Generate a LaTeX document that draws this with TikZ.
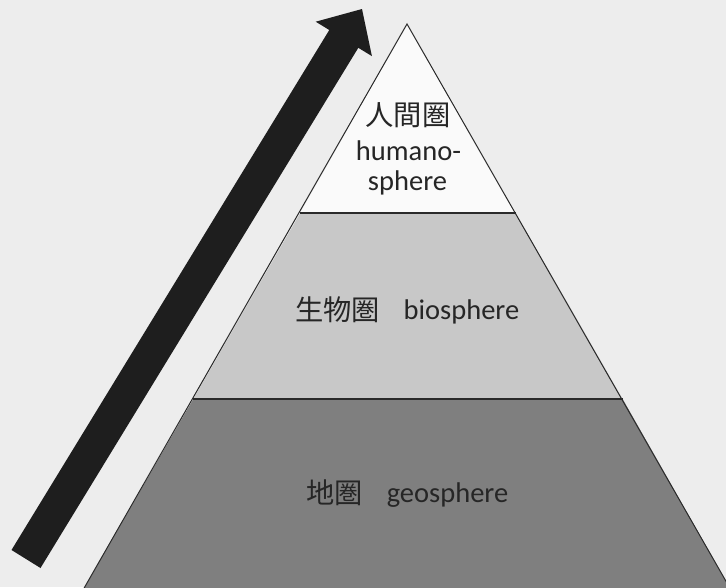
\documentclass[tikz,border=0pt]{standalone}
\usepackage{fontspec}
\setmainfont{Carlito}
\newfontfamily\cjk{Noto Sans CJK JP}
\definecolor{bg}{HTML}{EDEDED}
\definecolor{topfill}{HTML}{FAFAFA}
\definecolor{midfill}{HTML}{C8C8C8}
\definecolor{lowfill}{HTML}{7F7F7F}
\definecolor{edge}{HTML}{2A2A2A}
\definecolor{txt}{HTML}{262626}
\definecolor{arrowfill}{HTML}{1E1E1E}
\begin{document}
\begin{tikzpicture}[x=1pt,y=-1pt,
  lbl/.style={anchor=base,inner sep=0pt,text=txt,font=\fontsize{28.5}{34}\selectfont},
  cjklbl/.style={anchor=base,inner sep=0pt,text=txt,font=\fontsize{28.3}{34}\selectfont\cjk},
  layer/.style={draw=edge,line width=1pt}]
\useasboundingbox (0,0) rectangle (726,587);
\fill[bg] (0,0) rectangle (726,587);
\begin{scope}
\clip (0,0) rectangle (726,587);
% pyramid geometry
\coordinate (apex) at (407,24);
\coordinate (l1) at (300.3,213);
\coordinate (r1) at (515.7,213);
\coordinate (l2) at (193.3,399);
\coordinate (r2) at (622.7,399);
\coordinate (bl) at (83,590);
\coordinate (br) at (731,590);
\fill[lowfill] (l2) -- (r2) -- (br) -- (bl) -- cycle;
\fill[midfill] (l1) -- (r1) -- (r2) -- (l2) -- cycle;
\fill[topfill] (apex) -- (r1) -- (l1) -- cycle;
\draw[layer] (bl) -- (apex) -- (br);
\draw[edge,line width=1.6pt] (l1) -- (r1);
\draw[edge,line width=1.6pt] (l2) -- (r2);
% arrow
\fill[arrowfill] (11.5,550) -- (329.3,30.0) -- (315.7,21.7) -- (362,9) -- (371.9,56.1) -- (358.3,47.8) -- (40.5,568) -- cycle;
\end{scope}
% labels
\node[cjklbl] (hj) at (408,125) {人間圏};
\node[lbl] (h1) at (408.5,160) {humano-};
\node[lbl] (h2) at (407.5,190) {sphere};
\node[cjklbl] (bj) at (337.5,320) {生物圏};
\node[lbl] (be) at (461.5,319) {biosphere};
\node[cjklbl] (gj) at (334.5,503) {地圏};
\node[lbl] (ge) at (447.5,502) {geosphere};
\end{tikzpicture}
\end{document}
